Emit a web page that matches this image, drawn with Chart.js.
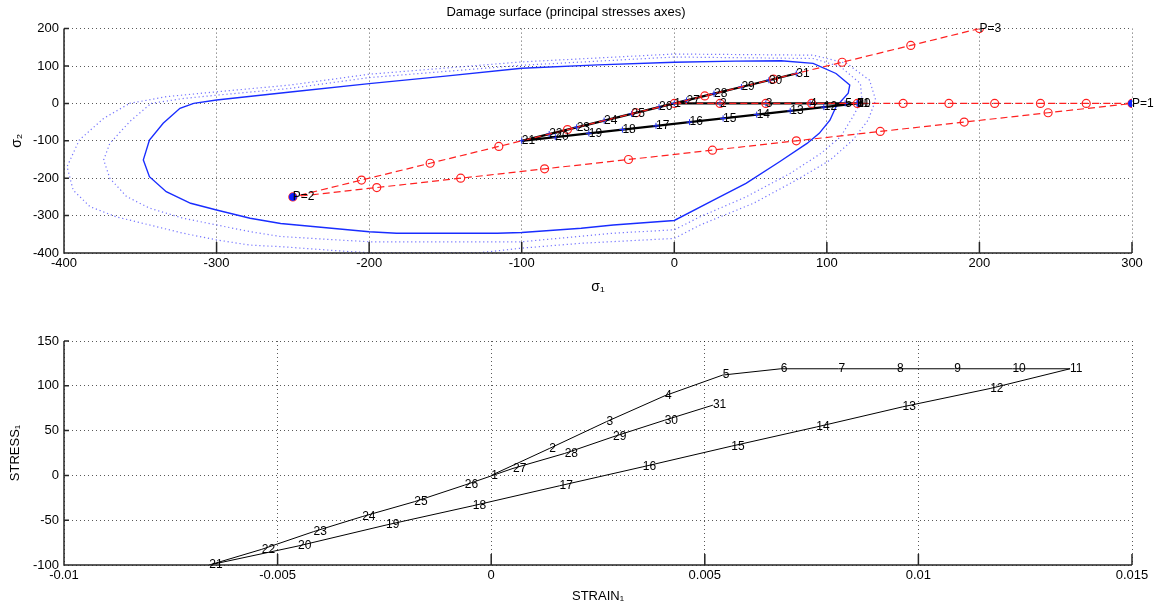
<!DOCTYPE html>
<html>
<head>
<meta charset="utf-8">
<script src="https://cdn.jsdelivr.net/npm/chart.js@4.4.1/dist/chart.umd.min.js"></script>
<style>
  html, body { margin: 0; padding: 0; background: #fff; }
  body { width: 1158px; height: 607px; position: relative; overflow: hidden; }
  .box { position: absolute; left: 0; width: 1158px; }
  #topBox { top: 0; height: 305px; }
  #botBox { top: 310px; height: 297px; }
</style>
</head>
<body>
<div class="box" id="topBox"><canvas id="surfaceChart"></canvas></div>
<div class="box" id="botBox"><canvas id="strainChart"></canvas></div>
<script>
const FONT = "'Liberation Sans', Arial, Helvetica, sans-serif";

// --- top plot: damage surface in principal stress space ---
// initial damage surface (solid)
const surfS1 = [-315, -300, -250, -200, -150, -100, -50, 0, 40, 70, 91, 106, 115, 114, 106, 102, 95, 87, 69, 47, 26, 0, -40, -61, -100, -116, -182, -200, -258, -278, -300, -317, -333, -344, -348, -344, -335, -324, -315];
const surfS2 = [0, 9, 31, 53, 73, 94, 103, 110, 113, 114, 107, 80, 49, 27, -9, -45, -80, -107, -156, -214, -258, -313, -325, -334, -345, -347, -347, -343, -321, -307, -285, -267, -236, -196, -151, -98, -53, -13, 0];
// grown surfaces (dotted)
const grownS1a = [-343, -322, -300, -252, -200, -100, 0, 91, 109, 122, 123, 117, 109, 96, 76, 47, 17, 0, -40, -100, -200, -258, -278, -300, -322, -344, -359, -370, -374, -370, -357, -343];
const grownS2a = [0, 13, 22, 40, 69, 102, 124, 120, 98, 53, 9, -36, -89, -134, -187, -250, -303, -338, -347, -370, -370, -356, -343, -325, -307, -280, -249, -200, -151, -107, -49, 0];
const grownS1b = [-357, -333, -300, -252, -200, -100, 0, 91, 113, 128, 132, 127, 117, 102, 80, 52, 17, 0, -61, -100, -127, -200, -214, -258, -278, -300, -322, -344, -366, -383, -394, -398, -390, -374, -357];
const grownS2b = [0, 18, 31, 49, 78, 111, 132, 129, 107, 62, 9, -45, -98, -152, -205, -267, -325, -361, -374, -387, -399, -399, -396, -383, -379, -365, -347, -325, -303, -276, -232, -169, -98, -40, 0];

// applied (trial) stress path, red
const trialS1 = [0, 30, 60, 90, 120, 150, 180, 210, 240, 270, 300, 245, 190, 135, 80, 25, -30, -85, -140, -195, -250, -205, -160, -115, -70, -25, 20, 65, 110, 155, 200];
const trialS2 = [0, 0, 0, 0, 0, 0, 0, 0, 0, 0, 0, -25, -50, -75, -100, -125, -150, -175, -200, -225, -250, -205, -160, -115, -70, -25, 20, 65, 110, 155, 200];

// computed stress path, black
const pathS1 = [0, 30, 60, 89, 112, 120, 120, 120, 120, 120, 120, 98, 76, 54, 32, 10, -12, -34, -56, -78, -100, -82, -64, -46, -28, -10, 8, 26, 44, 62, 80];
const pathS2 = [0, 0, 0, 0, 0, 0, 0, 0, 0, 0, 0, -10, -20, -30, -40, -50, -60, -70, -80, -90, -100, -82, -64, -46, -28, -10, 8, 26, 44, 62, 80];
const stepLabels = ['1', '2', '3', '4', '5', '6', '7', '8', '9', '10', '11', '12', '13', '14', '15', '16', '17', '18', '19', '20', '21', '22', '23', '24', '25', '26', '27', '28', '29', '30', '31'];

const loadS1 = [300, -250, 200];
const loadS2 = [0, -250, 200];
const loadLabels = ['P=1', 'P=2', 'P=3'];

const sigTicksX = [-400, -300, -200, -100, 0, 100, 200, 300];
const sigTicksY = [-400, -300, -200, -100, 0, 100, 200];

// --- bottom plot: stress-strain ---
const strain1 = [0, 0.00136, 0.0027, 0.00407, 0.00542, 0.00678, 0.00813, 0.0095, 0.01084, 0.0122, 0.01355, 0.01168, 0.00963, 0.00761, 0.00562, 0.00355, 0.0016, -0.00043, -0.00246, -0.00452, -0.0066, -0.00537, -0.00416, -0.00302, -0.0018, -0.00062, 0.00051, 0.00172, 0.00285, 0.00406, 0.00519];
const stress1 = [0, 30, 60, 89, 112, 119, 119, 119, 119, 119, 119, 97, 76.5, 54, 32.6, 9.6, -11.6, -33.9, -55.4, -78.8, -100, -82.5, -62.8, -46, -29.4, -10.8, 7.8, 24.5, 43, 61.6, 78.4];

const strainTicks = [-0.01, -0.005, 0, 0.005, 0.01, 0.015];
const strainTickLabels = ['-0.01', '-0.005', '0', '0.005', '0.01', '0.015'];
const stressTicks = [-100, -50, 0, 50, 100, 150];

const pts = (xs, ys) => xs.map((x, i) => ({ x: x, y: ys[i] }));

Chart.defaults.font.family = FONT;
Chart.defaults.color = '#000';

// matlab-like axes: solid left/bottom lines, inward ticks, text labels at points
const matlabAxes = {
    id: 'matlabAxes',
    afterDatasetsDraw(chart) {
        const { ctx, chartArea: a, scales: { x, y } } = chart;
        ctx.save();
        ctx.strokeStyle = '#262626';
        ctx.lineWidth = 1.5;
        ctx.beginPath();
        ctx.moveTo(a.left, a.top);
        ctx.lineTo(a.left, a.bottom);
        ctx.lineTo(a.right, a.bottom);
        x.ticks.forEach(t => {
            const px = x.getPixelForValue(t.value);
            ctx.moveTo(px, a.bottom);
            ctx.lineTo(px, a.bottom - 11);
        });
        y.ticks.forEach(t => {
            const py = y.getPixelForValue(t.value);
            ctx.moveTo(a.left, py);
            ctx.lineTo(a.left + 5, py);
        });
        ctx.stroke();

        ctx.fillStyle = '#000';
        ctx.font = '12px ' + FONT;
        ctx.textAlign = 'left';
        ctx.textBaseline = 'middle';
        chart.data.datasets.forEach((ds, i) => {
            if (!ds.pointLabels) return;
            chart.getDatasetMeta(i).data.forEach((el, j) => {
                ctx.fillText(ds.pointLabels[j], el.x, el.y);
            });
        });
        ctx.restore();
    }
};

const gridOpts = { color: 'rgba(0,0,0,0.65)', lineWidth: 1, drawTicks: false };
const borderOpts = { display: false, dash: [1, 3] };
const tickFont = { family: FONT, size: 13 };

function fixedTicks(values) {
    return scale => { scale.ticks = values.map(v => ({ value: v })); };
}

// --- top chart ---
new Chart(document.getElementById('surfaceChart'), {
    type: 'scatter',
    data: {
        datasets: [
            {
                data: pts(loadS1, loadS2),
                showLine: false,
                pointRadius: [3.5, 3.5, 0],
                pointBackgroundColor: '#1020ff',
                pointBorderColor: '#1020ff',
                pointLabels: loadLabels
            },
            {
                data: pts(trialS1, trialS2),
                showLine: true,
                borderColor: '#ff2020',
                borderWidth: 1.2,
                borderDash: [7, 4],
                pointStyle: 'circle',
                pointRadius: 4,
                pointBorderWidth: 1.2,
                pointBorderColor: '#ff2020',
                pointBackgroundColor: 'rgba(0,0,0,0)'
            },
            {
                data: pts(pathS1, pathS2),
                showLine: true,
                borderColor: '#000',
                borderWidth: 2.2,
                pointStyle: 'cross',
                pointRadius: 3,
                pointBorderWidth: 1,
                pointBorderColor: '#2030ff',
                pointLabels: stepLabels
            },
            {
                data: pts(surfS1, surfS2),
                showLine: true,
                borderColor: 'rgb(25,45,255)',
                borderWidth: 1.4,
                pointRadius: 0
            },
            {
                data: pts(grownS1a, grownS2a),
                showLine: true,
                borderColor: 'rgba(70,70,255,0.75)',
                borderWidth: 1.2,
                borderDash: [1.2, 2.8],
                pointRadius: 0
            },
            {
                data: pts(grownS1b, grownS2b),
                showLine: true,
                borderColor: 'rgba(70,70,255,0.75)',
                borderWidth: 1.2,
                borderDash: [1.2, 2.8],
                pointRadius: 0
            }
        ]
    },
    options: {
        responsive: true,
        maintainAspectRatio: false,
        animation: false,
        events: [],
        layout: { padding: { left: 0, right: 26, top: 0, bottom: 0 } },
        plugins: {
            legend: { display: false },
            tooltip: { enabled: false },
            title: {
                display: true,
                text: 'Damage surface (principal stresses axes)',
                color: '#000',
                font: { family: FONT, size: 13, weight: 'normal' },
                padding: { top: 5, bottom: 8 }
            }
        },
        scales: {
            x: {
                type: 'linear',
                min: -400,
                max: 300,
                afterBuildTicks: fixedTicks(sigTicksX),
                afterFit: s => { s.height = 52; },
                ticks: { color: '#000', font: tickFont, padding: 3, maxRotation: 0, autoSkip: false },
                grid: gridOpts,
                border: borderOpts,
                title: { display: true, text: 'σ₁', color: '#000', font: { family: FONT, size: 14 }, padding: { top: 0, bottom: 9 } }
            },
            y: {
                type: 'linear',
                min: -400,
                max: 200,
                afterBuildTicks: fixedTicks(sigTicksY),
                afterFit: s => { s.width = 64; },
                ticks: { color: '#000', font: tickFont, padding: 5, autoSkip: false },
                grid: gridOpts,
                border: borderOpts,
                title: { display: true, text: 'σ₂', color: '#000', font: { family: FONT, size: 14 }, padding: { top: 9, bottom: 0 } }
            }
        }
    },
    plugins: [matlabAxes]
});

// --- bottom chart ---
new Chart(document.getElementById('strainChart'), {
    type: 'scatter',
    data: {
        datasets: [{
            data: pts(strain1, stress1),
            showLine: true,
            borderColor: '#000',
            borderWidth: 1,
            pointRadius: 0,
            pointLabels: stepLabels
        }]
    },
    options: {
        responsive: true,
        maintainAspectRatio: false,
        animation: false,
        events: [],
        layout: { padding: { left: 0, right: 26, top: 31, bottom: 0 } },
        plugins: {
            legend: { display: false },
            tooltip: { enabled: false }
        },
        scales: {
            x: {
                type: 'linear',
                min: -0.01,
                max: 0.015,
                afterBuildTicks: fixedTicks(strainTicks),
                afterFit: s => { s.height = 42; },
                ticks: {
                    color: '#000', font: tickFont, padding: 3, maxRotation: 0, autoSkip: false,
                    callback: (v, i) => strainTickLabels[i]
                },
                grid: gridOpts,
                border: borderOpts,
                title: { display: true, text: 'STRAIN₁', color: '#000', font: tickFont, padding: { top: 0, bottom: 3 } }
            },
            y: {
                type: 'linear',
                min: -100,
                max: 150,
                afterBuildTicks: fixedTicks(stressTicks),
                afterFit: s => { s.width = 64; },
                ticks: { color: '#000', font: tickFont, padding: 5, autoSkip: false },
                grid: gridOpts,
                border: borderOpts,
                title: { display: true, text: 'STRESS₁', color: '#000', font: tickFont, padding: { top: 8, bottom: 0 } }
            }
        }
    },
    plugins: [matlabAxes]
});
</script>
</body>
</html>
